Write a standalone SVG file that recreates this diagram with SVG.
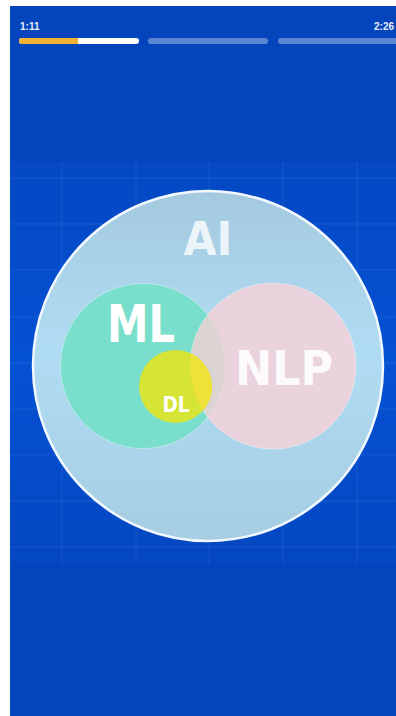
<svg xmlns="http://www.w3.org/2000/svg" width="396" height="716" viewBox="0 0 396 716">
  <defs>
    <linearGradient id="panel" x1="0" y1="0" x2="0" y2="1">
      <stop offset="0" stop-color="#0448C3"/>
      <stop offset="0.5" stop-color="#0551D4"/>
      <stop offset="1" stop-color="#0447C1"/>
    </linearGradient>
    <linearGradient id="aiFill" x1="0" y1="0" x2="0" y2="1">
      <stop offset="0" stop-color="#A4C9DE"/>
      <stop offset="0.45" stop-color="#B0DCF3"/>
      <stop offset="1" stop-color="#A6CDE2"/>
    </linearGradient>
    <clipPath id="nlpClip">
      <circle cx="273" cy="366" r="83"/>
    </clipPath>
    <style>
      .grid line { stroke: #FFFFFF; stroke-opacity: 0.08; stroke-width: 1; }
      .lbl { font-family: "DejaVu Sans", "Liberation Sans", sans-serif; font-weight: bold; fill: #FFFFFF; text-anchor: middle; }
      .time { font-family: "Liberation Sans", "DejaVu Sans", sans-serif; font-size: 10px; font-weight: bold; fill: #E6ECF8; }
      .track { fill: #FFFFFF; fill-opacity: 0.35; }
    </style>
  </defs>

  <rect x="0" y="0" width="396" height="716" fill="#FFFFFF"/>
  <rect x="10" y="6" width="386" height="710" fill="#0445BD"/>
  <rect x="10" y="162" width="386" height="402" fill="url(#panel)"/>

  <g class="grid">
    <line x1="62" y1="162" x2="62" y2="564"/>
    <line x1="136" y1="162" x2="136" y2="564"/>
    <line x1="209" y1="162" x2="209" y2="564"/>
    <line x1="283" y1="162" x2="283" y2="564"/>
    <line x1="357" y1="162" x2="357" y2="564"/>
    <line x1="10" y1="178" x2="396" y2="178"/>
    <line x1="10" y1="224" x2="396" y2="224"/>
    <line x1="10" y1="270" x2="396" y2="270"/>
    <line x1="10" y1="317" x2="396" y2="317"/>
    <line x1="10" y1="363" x2="396" y2="363"/>
    <line x1="10" y1="409" x2="396" y2="409"/>
    <line x1="10" y1="455" x2="396" y2="455"/>
    <line x1="10" y1="501" x2="396" y2="501"/>
    <line x1="10" y1="547" x2="396" y2="547"/>
  </g>

  <g id="progress">
    <text class="time" x="20" y="30">1:11</text>
    <text class="time" x="394" y="30" text-anchor="end">2:26</text>
    <rect x="19" y="38" width="120" height="6" rx="3" fill="#FFFFFF"/>
    <path d="M22 38 H78 V44 H22 A3 3 0 0 1 22 38 Z" fill="#F3B332"/>
    <rect class="track" x="148" y="38" width="120" height="6" rx="3"/>
    <rect class="track" x="278" y="38" width="130" height="6" rx="3"/>
  </g>

  <g id="ai">
    <circle cx="208" cy="366" r="175" fill="url(#aiFill)" stroke="#F2F8FF" stroke-width="2.5"/>
    <text class="lbl" x="208" y="255" font-size="46" textLength="49" lengthAdjust="spacingAndGlyphs" fill-opacity="0.8">AI</text>
  </g>

  <g id="ml">
    <circle cx="143" cy="366" r="82.5" fill="#79DFCC" stroke="#FFFFFF" stroke-opacity="0.35" stroke-width="1"/>
    <text class="lbl" x="141" y="342" font-size="51" textLength="68" lengthAdjust="spacingAndGlyphs">ML</text>
  </g>

  <g id="nlp">
    <circle cx="273" cy="366" r="83" fill="#FDD0D6" fill-opacity="0.75" stroke="#FFFFFF" stroke-opacity="0.35" stroke-width="1"/>
    <text class="lbl" x="284" y="385" font-size="48" textLength="98" lengthAdjust="spacingAndGlyphs" fill-opacity="0.92">NLP</text>
  </g>

  <g id="dl">
    <circle cx="175.5" cy="386.5" r="36.5" fill="#D6E436"/>
    <circle cx="175.5" cy="386.5" r="36.5" fill="#EEE238" clip-path="url(#nlpClip)"/>
    <text class="lbl" x="176" y="412" font-size="21" textLength="27" lengthAdjust="spacingAndGlyphs">DL</text>
  </g>
</svg>
